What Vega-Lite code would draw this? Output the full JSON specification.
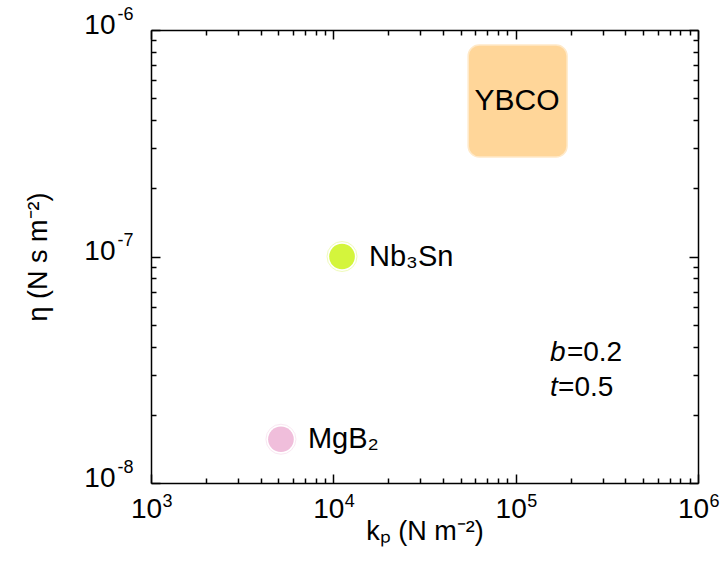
{
  "$schema": "https://vega.github.io/schema/vega-lite/v6.json",
  "width": 547,
  "height": 453,
  "autosize": {"type": "none"},
  "padding": {"left": 151, "top": 30, "right": 23, "bottom": 89},
  "background": "white",
  "config": {
    "view": {"stroke": null},
    "font": "Liberation Sans",
    "axis": {
      "grid": false,
      "domainColor": "black",
      "domainWidth": 1.5,
      "tickColor": "black",
      "tickWidth": 1.5,
      "labelFont": "Liberation Sans",
      "labelFontSize": 28,
      "labelColor": "black",
      "labelFlush": false,
      "labelOverlap": false,
      "titleFont": "Liberation Sans",
      "titleFontSize": 27,
      "titleFontWeight": "normal",
      "titleColor": "black"
    }
  },
  "datasets": {
    "points": [
      {"name": "Nb3Sn", "label": "Nb₃Sn", "kp": 11160, "eta": 1e-7},
      {"name": "MgB2", "label": "MgB₂", "kp": 5160, "eta": 1.56e-8}
    ],
    "ybco": [
      {"name": "YBCO", "x1": 54900, "x2": 191400, "y1": 8.59e-7, "y2": 2.75e-7, "xc": 101800, "yc": 4.86e-7}
    ],
    "annItalic": [
      {"txt": "b", "x": 154400, "y": 3.75e-8},
      {"txt": "t", "x": 154400, "y": 2.63e-8}
    ],
    "annPlain": [
      {"txt": "=0.2", "x": 191000, "y": 3.75e-8},
      {"txt": "=0.5", "x": 170800, "y": 2.63e-8}
    ]
  },
  "resolve": {"axis": {"x": "independent", "y": "independent"}},
  "layer": [
    {
      "data": {"name": "points"},
      "mark": {"type": "point", "filled": true, "size": 660, "opacity": 1},
      "encoding": {
        "x": {
          "field": "kp", "type": "quantitative",
          "scale": {"type": "log", "domain": [1000, 1000000], "nice": false},
          "axis": {
            "orient": "bottom",
            "values": [1000,2000,3000,4000,5000,6000,7000,8000,9000,10000,20000,30000,40000,50000,60000,70000,80000,90000,100000,200000,300000,400000,500000,600000,700000,800000,900000,1000000],
            "tickSize": {"condition": {"test": "abs(log(datum.value)/LN10 - round(log(datum.value)/LN10)) < 0.001", "value": -9}, "value": -5},
            "labelExpr": "abs(log(datum.value)/LN10 - round(log(datum.value)/LN10)) < 0.001 ? '10' : ''",
            "labelPadding": 21,
            "labelOffset": -5,
            "title": "kₚ (N m⁻²)",
            "titlePadding": -9
          }
        },
        "y": {
          "field": "eta", "type": "quantitative",
          "scale": {"type": "log", "domain": [1e-8, 1e-6], "nice": false},
          "axis": {
            "orient": "left",
            "values": [1e-8,2e-8,3e-8,4e-8,5e-8,6e-8,7e-8,8e-8,9e-8,1e-7,2e-7,3e-7,4e-7,5e-7,6e-7,7e-7,8e-7,9e-7,1e-6],
            "tickSize": {"condition": {"test": "abs(log(datum.value)/LN10 - round(log(datum.value)/LN10)) < 0.001", "value": -9}, "value": -5},
            "labelExpr": "abs(log(datum.value)/LN10 - round(log(datum.value)/LN10)) < 0.001 ? '10' : ''",
            "labelPadding": 45,
            "labelOffset": -5,
            "labelBaseline": "middle",
            "title": "η (N s m⁻²)",
            "titlePadding": 31
          }
        },
        "color": {
          "field": "name", "type": "nominal",
          "scale": {"domain": ["Nb3Sn", "MgB2"], "range": ["#d4f53c", "#f0bedb"]},
          "legend": null
        }
      }
    },
    {
      "data": {"name": "points"},
      "mark": {"type": "point", "filled": false, "size": 900, "strokeWidth": 1, "opacity": 0.35},
      "encoding": {
        "x": {
          "field": "kp", "type": "quantitative",
          "axis": {
            "orient": "top",
            "values": [1000,2000,3000,4000,5000,6000,7000,8000,9000,10000,20000,30000,40000,50000,60000,70000,80000,90000,100000,200000,300000,400000,500000,600000,700000,800000,900000,1000000],
            "tickSize": {"condition": {"test": "abs(log(datum.value)/LN10 - round(log(datum.value)/LN10)) < 0.001", "value": -9}, "value": -5},
            "labels": false,
            "title": null
          }
        },
        "y": {
          "field": "eta", "type": "quantitative",
          "axis": {
            "orient": "right",
            "values": [1e-8,2e-8,3e-8,4e-8,5e-8,6e-8,7e-8,8e-8,9e-8,1e-7,2e-7,3e-7,4e-7,5e-7,6e-7,7e-7,8e-7,9e-7,1e-6],
            "tickSize": {"condition": {"test": "abs(log(datum.value)/LN10 - round(log(datum.value)/LN10)) < 0.001", "value": -9}, "value": -5},
            "labels": false,
            "title": null
          }
        },
        "color": {"field": "name", "type": "nominal", "legend": null}
      }
    },
    {
      "data": {"name": "points"},
      "mark": {"type": "text", "align": "left", "baseline": "middle", "dx": 27, "fontSize": 29, "font": "Liberation Sans", "color": "black"},
      "encoding": {
        "x": {
          "field": "kp", "type": "quantitative",
          "axis": {
            "orient": "bottom",
            "values": [1000, 10000, 100000, 1000000],
            "ticks": false,
            "domain": false,
            "labelExpr": "round(log(datum.value)/LN10) + ''",
            "labelFontSize": 18,
            "labelAlign": "left",
            "labelBaseline": "top",
            "labelPadding": 9,
            "labelOffset": 11,
            "title": null
          }
        },
        "y": {
          "field": "eta", "type": "quantitative",
          "axis": {
            "orient": "left",
            "values": [1e-8, 1e-7, 1e-6],
            "ticks": false,
            "domain": false,
            "labelExpr": "'-' + (-round(log(datum.value)/LN10))",
            "labelFontSize": 18,
            "labelAlign": "left",
            "labelBaseline": "middle",
            "labelPadding": 34,
            "labelOffset": -16,
            "title": null
          }
        },
        "text": {"field": "label"}
      }
    },
    {
      "data": {"name": "ybco"},
      "mark": {"type": "rect", "color": "#ffd699", "cornerRadius": 11, "stroke": "#ffe9c8", "strokeWidth": 1.5},
      "encoding": {
        "x": {"field": "x1", "type": "quantitative", "axis": null},
        "x2": {"field": "x2"},
        "y": {"field": "y1", "type": "quantitative", "axis": null},
        "y2": {"field": "y2"}
      }
    },
    {
      "data": {"name": "ybco"},
      "mark": {"type": "text", "align": "center", "baseline": "middle", "fontSize": 30, "font": "Liberation Sans", "color": "black"},
      "encoding": {
        "x": {"field": "xc", "type": "quantitative", "axis": null},
        "y": {"field": "yc", "type": "quantitative", "axis": null},
        "text": {"field": "name"}
      }
    },
    {
      "data": {"name": "annItalic"},
      "mark": {"type": "text", "align": "left", "baseline": "middle", "fontSize": 28, "fontStyle": "italic", "font": "Liberation Sans", "color": "black"},
      "encoding": {
        "x": {"field": "x", "type": "quantitative", "axis": null},
        "y": {"field": "y", "type": "quantitative", "axis": null},
        "text": {"field": "txt"}
      }
    },
    {
      "data": {"name": "annPlain"},
      "mark": {"type": "text", "align": "left", "baseline": "middle", "fontSize": 28, "font": "Liberation Sans", "color": "black"},
      "encoding": {
        "x": {"field": "x", "type": "quantitative", "axis": null},
        "y": {"field": "y", "type": "quantitative", "axis": null},
        "text": {"field": "txt"}
      }
    }
  ]
}
